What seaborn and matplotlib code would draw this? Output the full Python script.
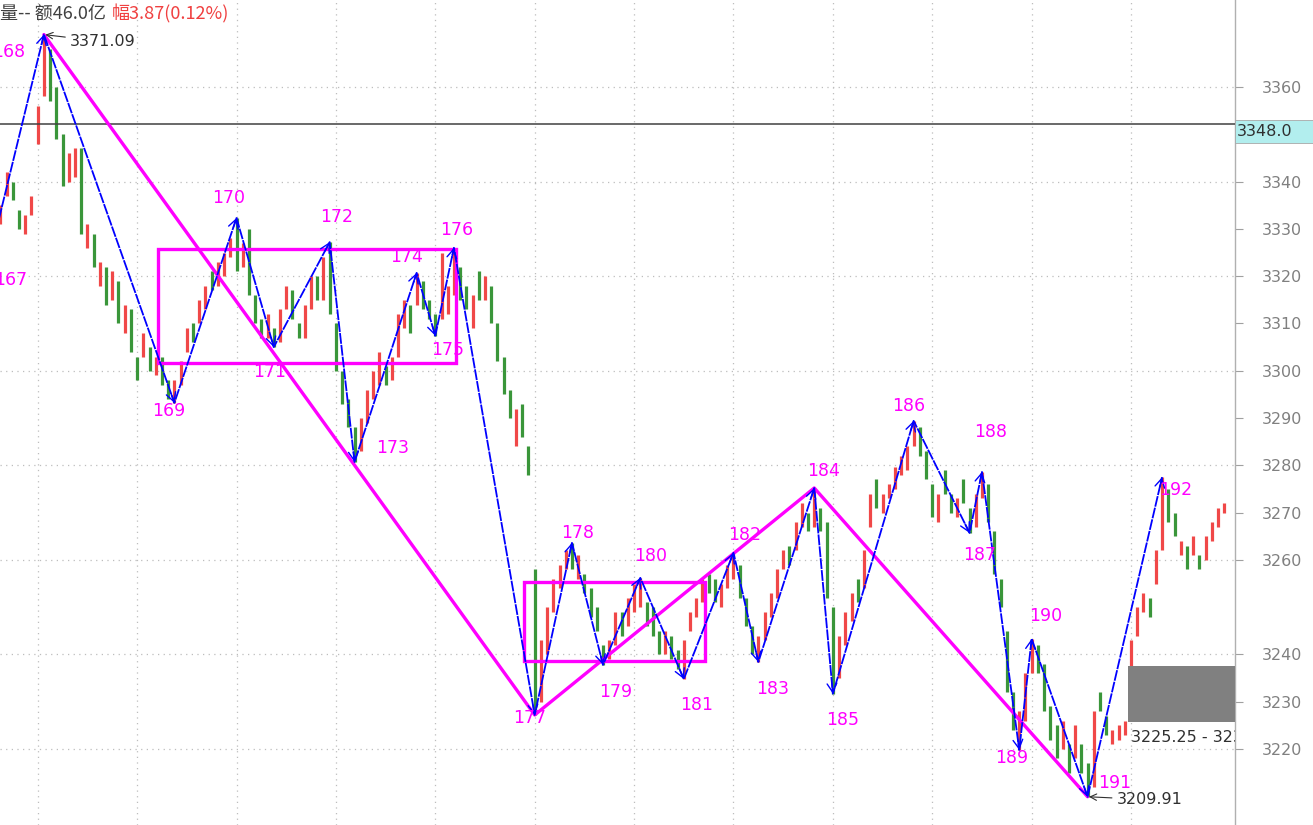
import numpy as np
import pandas as pd
import matplotlib
matplotlib.use('Agg')
import matplotlib.pyplot as plt
import seaborn as sns
from matplotlib.patches import Rectangle

# ---------------- data ----------------
opens = [3331, 3337, 3340, 3334, 3329, 3333, 3348, 3358, 3368, 3360,
         3350, 3340, 3341, 3347, 3326, 3329, 3318, 3322, 3315, 3319,
         3308, 3313, 3303, 3303, 3305, 3299, 3303, 3298, 3293.2, 3297,
         3304, 3310, 3310, 3313, 3321, 3318, 3320, 3324, 3332.3, 3322,
         3330, 3316, 3311, 3307, 3309, 3306, 3313, 3317, 3310, 3307,
         3313, 3320, 3315, 3327.2, 3310, 3300, 3294, 3288, 3283, 3289,
         3294, 3297, 3301, 3298, 3303, 3309, 3314, 3314, 3319, 3315,
         3312, 3311, 3312, 3316, 3322, 3318, 3309, 3321, 3315, 3318,
         3310, 3303, 3296, 3284, 3293, 3284, 3258, 3230, 3240, 3249,
         3254, 3258, 3263.6, 3256, 3257, 3254, 3250, 3242, 3239, 3242,
         3249, 3246, 3249, 3250, 3251, 3250, 3245, 3240, 3244, 3241,
         3234.8, 3245, 3248, 3251, 3257, 3256, 3250, 3254, 3256, 3259,
         3252, 3246, 3238.4, 3243, 3248, 3252, 3258, 3263, 3262, 3267,
         3270, 3267, 3271, 3268, 3250, 3235, 3242, 3247, 3256, 3254,
         3267, 3277, 3270, 3273, 3275, 3278, 3279, 3284, 3288, 3283,
         3276, 3268, 3279, 3274, 3269, 3277, 3271, 3267, 3273, 3276,
         3266, 3256, 3245, 3232, 3219.8, 3226, 3236, 3242, 3238, 3229,
         3225, 3220, 3221, 3218, 3221, 3217, 3212, 3232, 3227, 3221,
         3222, 3223, 3237, 3244, 3249, 3252, 3255, 3262, 3275, 3270,
         3261, 3263, 3261, 3261, 3260, 3264, 3267, 3270]
closes = [3335, 3342, 3336, 3330, 3333, 3337, 3356, 3371.09, 3357, 3349,
          3339, 3346, 3347, 3329, 3331, 3322, 3323, 3314, 3321, 3310,
          3314, 3304, 3298, 3308, 3300, 3303, 3297, 3294, 3298, 3302,
          3309, 3306, 3315, 3318, 3317, 3323, 3325, 3328, 3321, 3327,
          3316, 3310, 3307, 3312, 3305, 3313, 3318, 3311, 3307, 3314,
          3320, 3315, 3324, 3312, 3300, 3293, 3288, 3280.7, 3290, 3296,
          3300, 3304, 3297, 3303, 3312, 3315, 3308, 3320.7, 3313, 3311,
          3307.4, 3325, 3318, 3326, 3315, 3313, 3316, 3315, 3320, 3310,
          3302, 3295, 3290, 3292, 3286, 3278, 3227.2, 3243, 3250, 3256,
          3259, 3262, 3258, 3261, 3253, 3248, 3245, 3237.8, 3243, 3249,
          3244, 3252, 3255, 3256.2, 3246, 3244, 3240, 3245, 3239, 3237,
          3243, 3249, 3252, 3256, 3253, 3251, 3255, 3259, 3261.5, 3252,
          3246, 3240, 3244, 3249, 3253, 3258, 3262, 3259, 3268, 3272,
          3266, 3275.2, 3266, 3252, 3231.7, 3244, 3249, 3253, 3251, 3262,
          3274, 3271, 3274, 3276, 3279.7, 3282, 3284, 3289.4, 3282, 3277,
          3269, 3274, 3274, 3270, 3273, 3272, 3265.7, 3274, 3278.6, 3268,
          3257, 3250, 3232, 3224, 3228, 3236, 3243.3, 3236, 3228, 3222,
          3218, 3226, 3215, 3225, 3215, 3209.91, 3228, 3228, 3223, 3224,
          3225, 3226, 3243, 3250, 3253, 3248, 3262, 3277.5, 3268, 3265,
          3264, 3258, 3265, 3258, 3265, 3268, 3271, 3272]

pivot_ids = list(range(167, 193))
pivot_bar = [-1, 7, 28, 38, 44, 53, 57, 67, 70, 73, 86, 92, 97, 103,
             110, 118, 122, 131, 134, 147, 156, 158, 164, 166, 175, 187]
pivot_price = [3328.0, 3371.09, 3293.2, 3332.3, 3305.0, 3327.2, 3280.7,
               3320.7, 3307.4, 3326.0, 3227.2, 3263.6, 3237.8, 3256.2,
               3234.8, 3261.5, 3238.4, 3275.2, 3231.7, 3289.4, 3265.7,
               3278.6, 3219.8, 3243.3, 3209.91, 3277.5]
trend_ids = [168, 177, 184, 191]

# consolidation boxes: left bar, right bar, low, high
box_left = [25.4, 84.3]
box_right = [73.3, 113.4]
box_low = [3301.6, 3238.6]
box_high = [3325.8, 3255.3]

zone_left = 181.5
zone_low, zone_high = 3225.8, 3237.6
zone_text = "3225.25 - 3237.60"

ref_line = 3352.2
ref_label = "3348.0"
yticks = [3220, 3230, 3240, 3260, 3270, 3280, 3290, 3300,
          3310, 3320, 3330, 3340, 3360]
header_left = "量-- 额46.0亿"
header_right = "幅3.87(0.12%)"

# label offsets in pixels (layout only)
label_offsets = [(16, -42), (-35, -17), (-6, -8), (-8, 20), (-4, -25),
                 (7, 25), (38, 14), (-10, 16), (12, -14), (3, 18),
                 (-5, -3), (6, 10), (13, -27), (10, 22), (13, -26),
                 (11, 18), (14, -27), (9, 17), (10, -26), (-5, 15),
                 (10, -22), (9, 40), (-8, -8), (14, 23), (27, 14), (14, -13)]

# ---------------- figure ----------------
sns.set_theme(style='white')
plt.rcParams['font.family'] = ['DejaVu Sans', 'Noto Sans CJK SC']
W, H = 1313, 825
fig = plt.figure(figsize=(W / 100, H / 100), dpi=100)
fig.patch.set_facecolor('white')
ax = fig.add_axes([0, 0, 1235 / W, 1])
ax.set_facecolor('white')
ax.set_xlim(-0.07, 198.73)
ax.set_ylim(3203.93, 3378.40)

# grid
for gy in range(3220, 3361, 20):
    ax.axhline(gy, color='#bdbdbd', lw=0.9, ls=(0, (1, 3.5)), zorder=0)
for gx in range(6, 183, 16):
    ax.axvline(gx, color='#bdbdbd', lw=0.9, ls=(0, (1, 3.5)), zorder=0)

# candles
o = np.array(opens, dtype=float)
c = np.array(closes, dtype=float)
idx = np.arange(len(o))
up = c >= o
ax.vlines(idx[up], o[up], c[up], color='#F04848', lw=2.3, zorder=2)
ax.vlines(idx[~up], o[~up], c[~up], color='#3A963A', lw=2.3, zorder=2)

# reference line
ax.axhline(ref_line, color='#404040', lw=1.1, zorder=3)

# magenta trend + boxes
tpos = [pivot_ids.index(t) for t in trend_ids]
ax.plot([pivot_bar[i] for i in tpos], [pivot_price[i] for i in tpos],
        color='#FF00FF', lw=2.4, zorder=4)
for l, r, lo, hi in zip(box_left, box_right, box_low, box_high):
    ax.add_patch(Rectangle((l, lo), r - l, hi - lo, fill=False,
                           ec='#FF00FF', lw=2.4, zorder=4))

# blue zigzag via seaborn
zz = pd.DataFrame({'bar': pivot_bar, 'price': pivot_price})
sns.lineplot(data=zz, x='bar', y='price', ax=ax, sort=False, estimator=None,
             color='#0000FF', lw=1.3, zorder=5)
ax.lines[-1].set_dashes([6, 0.6])
ax.set_xlabel('')
ax.set_ylabel('')

P = ax.transData.transform(np.column_stack([pivot_bar, pivot_price]))
for k in range(1, len(P)):
    d = P[k] - P[k - 1]
    d = d / np.hypot(*d)
    ax.annotate('', xy=(pivot_bar[k], pivot_price[k]),
                xytext=(-d[0] * 10, -d[1] * 10), textcoords='offset pixels',
                arrowprops=dict(arrowstyle='->,head_length=0.45,head_width=0.25',
                                color='#0000FF', lw=1.0, shrinkA=0, shrinkB=0,
                                mutation_scale=14),
                annotation_clip=False, zorder=5)

# pivot labels
for pid, xb, yp, (dx, dy) in zip(pivot_ids, pivot_bar, pivot_price, label_offsets):
    ax.annotate(str(pid), (xb, yp), xytext=(dx, dy), textcoords='offset pixels',
                ha='center', va='center', color='#FF00FF', fontsize=12.5,
                annotation_clip=False, zorder=7)

# extreme price annotations
for pid, off in [(168, (26, -7)), (191, (29, -3))]:
    k = pivot_ids.index(pid)
    ax.annotate(f"{pivot_price[k]:.2f}", (pivot_bar[k], pivot_price[k]),
                xytext=off, textcoords='offset pixels', ha='left', va='center',
                color='#303030', fontsize=11.5,
                arrowprops=dict(arrowstyle='->,head_length=0.4,head_width=0.2',
                                color='#303030', lw=0.8, shrinkA=1, shrinkB=1),
                annotation_clip=False, zorder=7)

# gray zone
ax.add_patch(Rectangle((zone_left, zone_low), 220 - zone_left, zone_high - zone_low,
                       fc='#808080', ec='none', zorder=6))
t = ax.text(zone_left + 0.5, 3222.5, zone_text, ha='left', va='center',
            color='#303030', fontsize=11.5, zorder=7)
t.set_clip_on(True)

# axes styling
for s in ['left', 'top', 'bottom']:
    ax.spines[s].set_visible(False)
ax.spines['right'].set_color('#b0b0b0')
ax.spines['right'].set_linewidth(1.0)
ax.yaxis.tick_right()
ax.set_yticks(yticks)
ax.set_xticks([])
ax.tick_params(axis='y', direction='out', length=6, width=0.8, colors='#a0a0a0',
               labelcolor='#808080', labelsize=11.5, pad=13)

# reference price box on axis
fig.patches.append(Rectangle((1235 / W, (H - 143) / H), 78 / W, 23 / H,
                             transform=fig.transFigure, fc='#B2EEEE',
                             ec='#a8a8a8', lw=0.6, zorder=10))
fig.text(1237 / W, (H - 131.5) / H, ref_label, ha='left', va='center',
         color='#303030', fontsize=11.5, zorder=11)

# header
fig.text(0, (H - 14) / H, header_left, ha='left', va='center', fontsize=13,
         color='#404040', family=['Noto Sans CJK SC', 'DejaVu Sans'])
fig.text(112 / W, (H - 14) / H, header_right, ha='left', va='center', fontsize=13,
         color='#F04040', family=['Noto Sans CJK SC', 'DejaVu Sans'])

fig.savefig('out.png', dpi=100, facecolor='white')
